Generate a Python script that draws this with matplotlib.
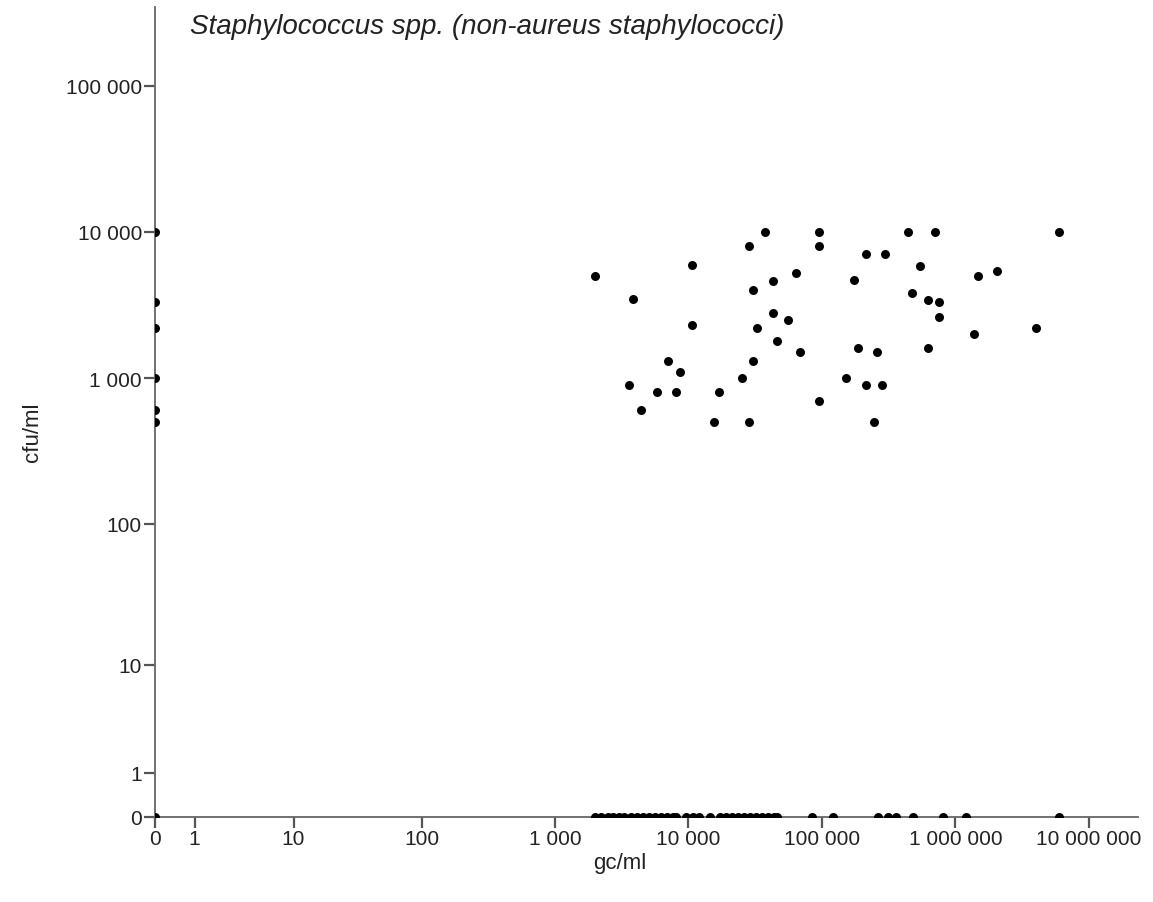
import matplotlib
matplotlib.use("Agg")
import matplotlib.pyplot as plt
import numpy as np

plt.rcParams['font.family'] = ['Liberation Sans', 'DejaVu Sans']

# paired samples with both values above zero (gc/ml, cfu/ml)
gc_pos = [37400, 95500, 28500, 95500, 10600, 2000, 63800, 42700, 30600, 3860,
          42700, 55900, 10600, 32600, 45800, 68400, 7060, 30600, 8630, 25000,
          3600, 5780, 8010, 16800, 95500, 4410, 15600, 28500,
          443000, 702000, 5990000, 213700, 298000, 542000, 174600, 2060000,
          1475000, 472000, 619000, 757000, 757000, 4010000, 1380000, 185000,
          258000, 619000, 152000, 213700, 280000, 244000]
cfu_pos = [10000, 10000, 8000, 8000, 5900, 5000, 5200, 4600, 4000, 3500,
           2800, 2500, 2300, 2200, 1800, 1500, 1300, 1300, 1100, 1000,
           900, 800, 800, 800, 700, 600, 500, 500,
           10000, 10000, 10000, 7000, 7000, 5800, 4700, 5400,
           5000, 3800, 3400, 3300, 2600, 2200, 2000, 1600,
           1500, 1600, 1000, 900, 900, 500]

# qPCR negative (gc/ml = 0)
cfu_gc0 = [10000, 3300, 2200, 1000, 600, 500, 0]

# culture negative (cfu/ml = 0)
gc_cfu0 = [2000, 2200, 2500, 2700, 3000, 3300, 3700, 4100, 4600, 5100, 5600,
           6200, 6900, 7700, 8100, 9600, 10800, 12000, 14500, 17200, 19100,
           21200, 23500, 26000, 28900, 32000, 35500, 39400, 43700, 46000,
           83800, 121600, 265000, 310000, 361000, 478000, 810000, 1190000,
           5990000]

ticks = [0, 1, 10, 100, 1000, 10000, 100000, 1000000, 10000000]
tick_labels = ['0', '1', '10', '100', '1 000', '10 000', '100 000',
               '1 000 000', '10 000 000']


def fwd(v):
    return np.log10(np.clip(v, 0, None) + 1)


def inv(v):
    return 10 ** np.asarray(v) - 1


fig = plt.figure(figsize=(11.53, 9.03), dpi=100)
ax = fig.add_axes([154.5 / 1153, 85 / 903, 983.2 / 1153, 810 / 903])

ax.set_xscale('function', functions=(fwd, inv))
ax.set_yscale('function', functions=(fwd, inv))

x_all = gc_pos + [0] * len(cfu_gc0) + gc_cfu0
y_all = cfu_pos + cfu_gc0 + [0] * len(gc_cfu0)
ax.scatter(x_all, y_all, s=42, color='black', linewidths=0, zorder=3)

ax.set_xlim(0, inv(7.365))
ax.set_ylim(0, inv(5.537))

ax.set_xticks(ticks)
ax.set_xticklabels(tick_labels)
ax.set_yticks(ticks[:7])
ax.set_yticklabels(tick_labels[:7])
ax.minorticks_off()

for s in ['top', 'right']:
    ax.spines[s].set_visible(False)
for s in ['left', 'bottom']:
    ax.spines[s].set_color('#666666')
    ax.spines[s].set_linewidth(1.3)
ax.tick_params(direction='out', length=8, width=1.6, color='#555555',
               labelsize=15, labelcolor='#222222')
ax.tick_params(axis='y', pad=1)
ax.tick_params(axis='x', pad=1)

ax.set_xlabel('gc/ml', fontsize=16, color='#222222')
ax.xaxis.set_label_coords(0.4735, -0.043)
ax.set_ylabel('cfu/ml', fontsize=16, color='#222222')
ax.yaxis.set_label_coords(-0.113, 0.4765)

ax.text(0.036, 0.977, 'Staphylococcus spp. (non-aureus staphylococci)',
        transform=ax.transAxes, style='italic', fontsize=20,
        color='#222222', va='center', ha='left')

fig.savefig('out.png', dpi=100)
